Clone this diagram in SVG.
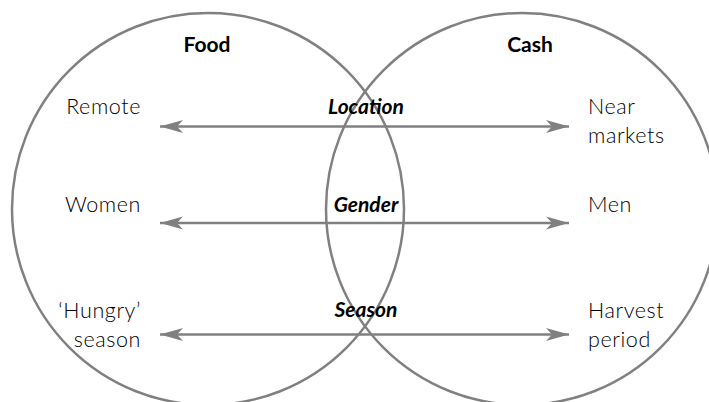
<svg xmlns="http://www.w3.org/2000/svg" width="709" height="402" viewBox="0 0 709 402">
<style>
.circ{fill:none;stroke:#808080;stroke-width:2.5}
.arr{stroke:#808080;stroke-width:2.5;fill:none;marker-start:url(#ah);marker-end:url(#ah)}
text{font-family:Lato,"Open Sans",sans-serif;fill:#000}
.hd{font-weight:700;font-size:21px;text-anchor:middle}
.bi{font-weight:700;font-style:italic;font-size:21px;text-anchor:middle}
.l{font-weight:300;font-size:21.5px;letter-spacing:0.6px;text-anchor:end}
.r{font-weight:300;font-size:21.5px;letter-spacing:0.6px;text-anchor:start}
</style>
<defs>
<marker id="ah" markerUnits="userSpaceOnUse" viewBox="-24 -8 26 16" refX="0" refY="0" markerWidth="26" markerHeight="16" orient="auto-start-reverse">
<path d="M0,0 L-23,-6.5 L-17,0 L-23,6.5 Z" fill="#808080"/>
</marker>
</defs>
<g id="food"><circle class="circ" cx="208" cy="209" r="196"/><text class="hd" x="207" y="52">Food</text></g>
<g id="cash"><circle class="circ" cx="522" cy="209" r="196"/><text class="hd" x="530" y="52">Cash</text></g>
<g id="connectors">
<line class="arr" x1="160" y1="126.5" x2="569" y2="126.5"/>
<line class="arr" x1="160" y1="223" x2="569" y2="223"/>
<line class="arr" x1="160" y1="334.5" x2="569" y2="334.5"/>
</g>
<g id="location"><text class="bi" x="366" y="114">Location</text></g>
<g id="gender"><text class="bi" x="366" y="212">Gender</text></g>
<g id="season"><text class="bi" x="366" y="317">Season</text></g>
<g id="remote"><text class="l" x="141" y="114">Remote</text></g>
<g id="women"><text class="l" x="141" y="212">Women</text></g>
<g id="hungry"><text class="l" x="141" y="318">‘Hungry’</text><text class="l" x="141" y="347">season</text></g>
<g id="near"><text class="r" x="588" y="114">Near</text><text class="r" x="588" y="143">markets</text></g>
<g id="men"><text class="r" x="588" y="212">Men</text></g>
<g id="harvest"><text class="r" x="588" y="318">Harvest</text><text class="r" x="588" y="347">period</text></g>
</svg>
